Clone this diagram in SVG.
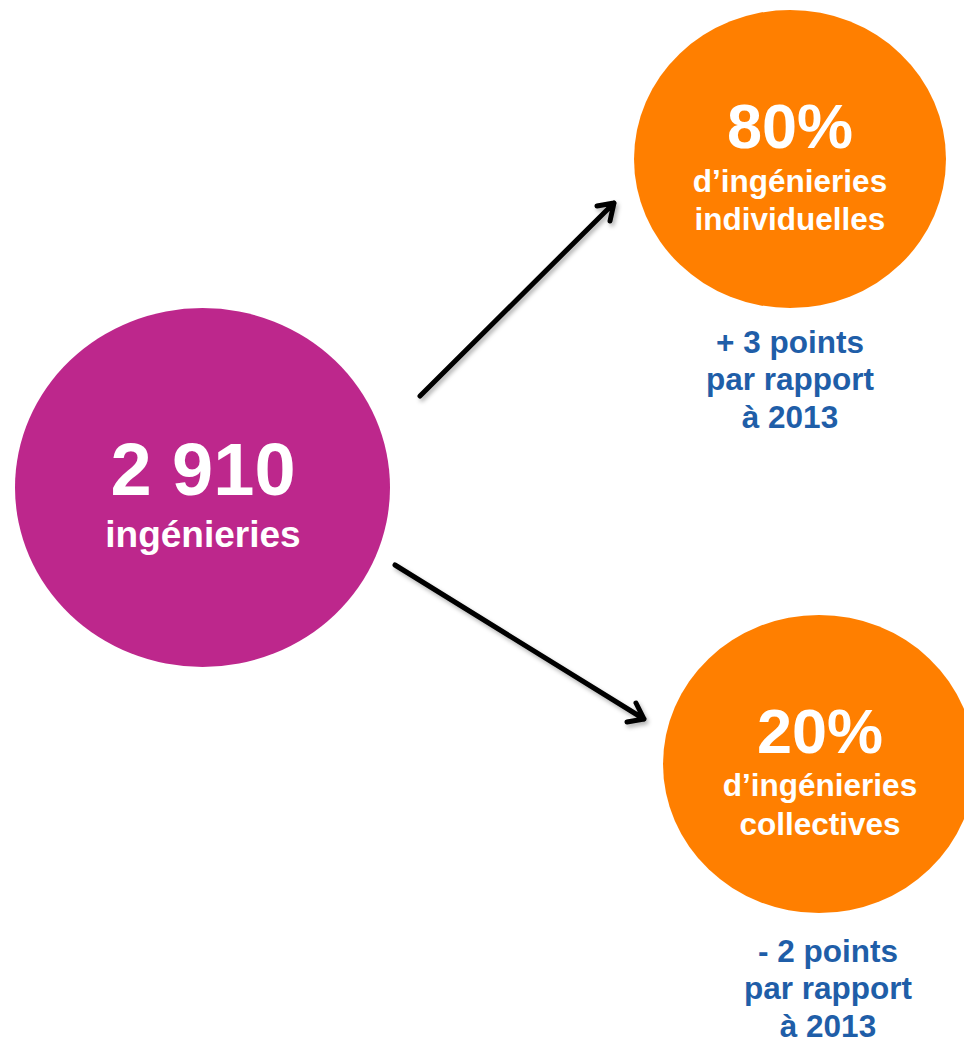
<svg xmlns="http://www.w3.org/2000/svg" width="964" height="1042" viewBox="0 0 964 1042">
<style>
.t{font-family:"Liberation Sans",Arial,sans-serif;font-weight:bold;text-anchor:middle;fill:#ffffff}
.b{font-family:"Liberation Sans",Arial,sans-serif;font-weight:bold;text-anchor:middle;fill:#1f5ea8;font-size:31.5px}
.arr{stroke:#000;stroke-width:5;fill:none;stroke-linecap:round;stroke-linejoin:round}
</style>
<defs>
<filter id="sh" x="-20%" y="-20%" width="140%" height="140%">
<feDropShadow dx="2" dy="3" stdDeviation="2" flood-color="#000" flood-opacity="0.3"/>
</filter>
</defs>
<rect width="964" height="1042" fill="#ffffff"/>
<g id="connectors" filter="url(#sh)">
<path class="arr" d="M420 396 L614 203 M597 206 L614 203 L610 221"/>
<path class="arr" d="M395 565 L644 719 M627 722 L644 719 L636 703"/>
</g>
<g id="node-total">
<ellipse cx="202.5" cy="487.5" rx="187.5" ry="179.5" fill="#bd278c"/>
<text class="t" x="203" y="495" font-size="74">2 910</text>
<text class="t" x="203" y="547" font-size="37">ingénieries</text>
</g>
<g id="node-individuelles">
<ellipse cx="790" cy="159" rx="156" ry="149" fill="#ff7f00"/>
<text class="t" x="790" y="148" font-size="63">80%</text>
<text class="t" x="790" y="192" font-size="31.5">d’ingénieries</text>
<text class="t" x="790" y="230" font-size="31.5">individuelles</text>
</g>
<g id="note-individuelles">
<text class="b" x="790" y="353">+ 3 points</text>
<text class="b" x="790" y="390">par rapport</text>
<text class="b" x="790" y="428">à 2013</text>
</g>
<g id="node-collectives">
<ellipse cx="819" cy="764" rx="156" ry="149" fill="#ff7f00"/>
<text class="t" x="820" y="753" font-size="63">20%</text>
<text class="t" x="820" y="796" font-size="31.5">d’ingénieries</text>
<text class="t" x="820" y="835" font-size="31.5">collectives</text>
</g>
<g id="note-collectives">
<text class="b" x="828" y="962">- 2 points</text>
<text class="b" x="828" y="999">par rapport</text>
<text class="b" x="828" y="1037">à 2013</text>
</g>
</svg>
